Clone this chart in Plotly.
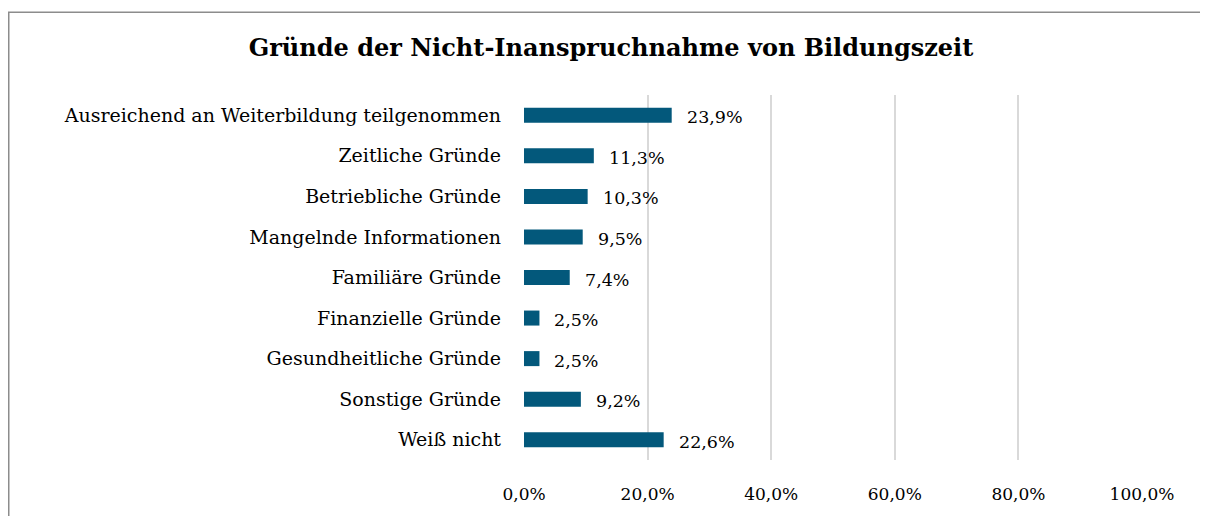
import plotly.graph_objects as go

categories = ["Ausreichend an Weiterbildung teilgenommen", "Zeitliche Gründe", "Betriebliche Gründe",
              "Mangelnde Informationen", "Familiäre Gründe", "Finanzielle Gründe",
              "Gesundheitliche Gründe", "Sonstige Gründe", "Weiß nicht"]
values = [23.9, 11.3, 10.3, 9.5, 7.4, 2.5, 2.5, 9.2, 22.6]
tick_vals = [0, 20, 40, 60, 80, 100]
tick_text = ["0,0%", "20,0%", "40,0%", "60,0%", "80,0%", "100,0%"]
labels = [f"{v:.1f}%".replace(".", ",") for v in values]

FONT = "DejaVu Serif"
W, H = 1200, 508
L, R, T, B = 516, 66, 87, 41

fig = go.Figure()
fig.add_trace(go.Bar(
    x=values, y=categories, orientation="h",
    marker=dict(color="#03587B", line=dict(width=0)),
    width=0.37, hoverinfo="skip",
))
for c, v, t in zip(categories, values, labels):
    fig.add_annotation(x=v, y=c, text=t, showarrow=False, xanchor="left",
                       xshift=13, yshift=-2, font=dict(family=FONT, size=17.5, color="#000"))

pw, ph = W - L - R, H - T - B
fig.add_shape(type="rect", xref="paper", yref="paper",
              x0=(0.75 - L) / pw, x1=(W + 20 - L) / pw,
              y0=(H - B - (H + 20)) / ph, y1=(H - B - 0.75) / ph,
              line=dict(color="#8c8c8c", width=1.5), fillcolor="rgba(0,0,0,0)", layer="above")

fig.update_layout(
    width=W, height=H,
    margin=dict(l=L, r=R, t=T, b=B, pad=0),
    paper_bgcolor="white", plot_bgcolor="white",
    showlegend=False,
    title=dict(text="<b>Gründe der Nicht-Inanspruchnahme von Bildungszeit</b>",
               x=603 / W, xanchor="center", y=1 - 40 / H, yanchor="middle",
               font=dict(family=FONT, size=24, color="#000")),
    xaxis=dict(range=[0, 100], tickvals=tick_vals, ticktext=tick_text,
               showgrid=True, gridcolor="#d9d9d9", gridwidth=1.5,
               zeroline=False, showline=False, ticks="",
               tickfont=dict(family=FONT, size=17, color="#000"),
               ticklabelstandoff=22),
    yaxis=dict(autorange="reversed", showgrid=False, zeroline=False, showline=False,
               ticks="", tickfont=dict(family=FONT, size=19, color="#000"),
               ticklabelstandoff=22),
    bargap=0.63,
)
fig.write_html("out.html")
